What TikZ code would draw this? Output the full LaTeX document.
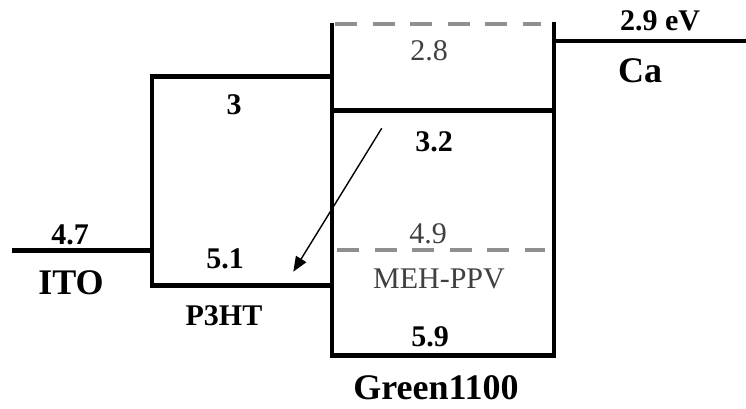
\documentclass[tikz,border=0pt]{standalone}
\usepackage{fontspec}
\setmainfont{Liberation Serif}
\usetikzlibrary{arrows.meta}
\definecolor{dashgray}{HTML}{8F8F8F}
\definecolor{txtgray}{HTML}{404040}
\tikzset{
  level/.style={line width=4.4pt, black},
  dlevel/.style={line width=4.4pt, dashgray, dash pattern=on 22pt off 15.5pt},
  num/.style={inner sep=0pt, font=\fontsize{30}{34}\selectfont\bfseries},
  big/.style={inner sep=0pt, font=\fontsize{36}{40}\selectfont\bfseries},
  glabel/.style={inner sep=0pt, text=txtgray, font=\fontsize{30}{34}\selectfont},
  transfer/.style={line width=1.4pt, -{Triangle[length=15pt,width=12pt]}}
}
\begin{document}
\begin{tikzpicture}[x=1pt,y=-1pt]
\useasboundingbox (0,0) rectangle (746,409);
% gray dashed levels of MEH-PPV
\draw[dlevel] (335,24) -- (541,24);
\draw[dlevel] (337,250) -- (545,250);
% ITO
\draw[level] (12,250.5) -- (152,250.5);
% P3HT box
\draw[level] (332,76.5) -- (152,76.5) -- (152,285.5) -- (332,285.5);
% Green1100 box
\draw[level] (332,23) -- (332,355.5) -- (554,355.5) -- (554,22);
\draw[level] (332,110.5) -- (554,110.5);
% Ca
\draw[level] (554,41) -- (746,41);
% labels
\node[num] (l3) at (234,104.5) {3};
\node[glabel] (l28) at (429,51) {2.8};
\node[num] (l32) at (434,142) {3.2};
\node[num] (l29) at (660,21) {2.9 eV};
\node[big] (ca) at (640,71) {Ca};
\node[num] (l47) at (70,235) {4.7};
\node[big] (ito) at (71,283) {ITO};
\node[num] (l51) at (225,259) {5.1};
\node[num] (p3ht) at (224,315.5) {P3HT};
\node[glabel] (l49) at (428,234) {4.9};
\node[glabel] (meh) at (439,279) {MEH-PPV};
\node[num] (l59) at (430,337) {5.9};
\node[big] (green) at (436,388) {Green1100};
% electron transfer arrow
\coordinate (astart) at (381.7,128.3);
\coordinate (aend) at (293.3,271.7);
\draw[transfer] (astart) -- (aend);
\end{tikzpicture}
\end{document}
